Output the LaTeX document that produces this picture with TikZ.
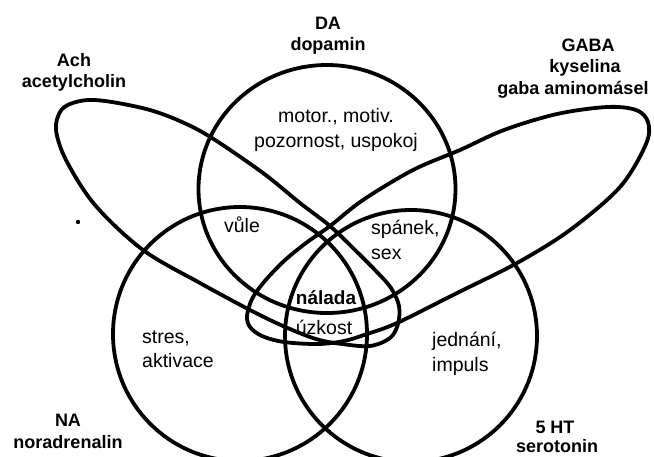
\documentclass[tikz,border=0pt]{standalone}
\usepackage{fontspec}
\setmainfont{Liberation Sans}
\begin{document}
\begin{tikzpicture}[x=1pt,y=-1pt,
  curve/.style={line width=3.8pt},
  lab/.style={font=\fontsize{18}{22}\selectfont\bfseries, inner sep=0pt},
  txt/.style={font=\fontsize{19.5}{24.5}\selectfont, inner sep=0pt, align=left},
]
\useasboundingbox (0,0) rectangle (654,456);
% circles
\draw[curve] (327,189) ellipse [x radius=128.5, y radius=124];
\draw[curve] (240,334) circle (127);
\draw[curve] (411,336) circle (126);
% Ach loop
\draw[curve] plot[smooth cycle, tension=0.55] coordinates {
  (56,130) (60,112) (70,104) (88,100) (112,102) (150,110) (182,122)
  (212,138) (263,173) (300,203) (330,226) (355,250) (375,270)
  (391,288) (399,306) (398,324) (390,338) (370,346) (342,344)
  (316,339) (283,326) (250,310) (200,283) (143,250) (95,205) (66,160)};
% GABA loop
\draw[curve] plot[smooth cycle, tension=0.55] coordinates {
  (247,316) (252,299) (264,282) (284,261) (306,243) (330,226)
  (363,200) (413,170) (460,150) (504,130) (557,114) (607,107)
  (636,110) (648,122) (646,144) (620,187) (570,230) (517,263)
  (457,293) (397,323) (367,334) (344,341) (318,344) (284,342)
  (262,336) (250,327)};
% speck
\fill (78,222) circle (2.2);
% labels
\node[lab] (da1) at (328,23) {DA};
\node[lab] (da2) at (328,46) {dopamin};
\node[lab] (ach1) at (74,60) {Ach};
\node[lab] (ach2) at (74,83) {acetylcholin};
\node[lab] (gaba1) at (588,45) {GABA};
\node[lab] (gaba2) at (585,68) {kyselina};
\node[lab] (gaba3) at (573,90) {gaba aminomásel};
\node[lab] (na1) at (68,420) {NA};
\node[lab] (na2) at (68,442) {noradrenalin};
\node[lab] (ht1) at (555,427) {5 HT};
\node[lab] (ht2) at (557,446) {serotonin};
% region texts
\node[txt, align=center] (mot) at (336,130) {motor., motiv.\\pozornost, uspokoj};
\node[txt] (vule) at (242,225) {vůle};
\node[txt, anchor=west] (span) at (371,240) {spánek,\\sex};
\node[txt, font=\fontsize{19}{24}\selectfont\bfseries] (nal) at (326,298) {nálada};
\node[txt] (uzk) at (324,327) {úzkost};
\node[txt, anchor=west] (stres) at (142,349.5) {stres,\\aktivace};
\node[txt, anchor=west] (jed) at (432,354) {jednání,\\impuls};
\end{tikzpicture}
\end{document}
